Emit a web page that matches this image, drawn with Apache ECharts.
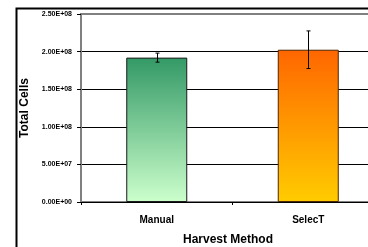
<!DOCTYPE html>
<html>
<head>
<meta charset="utf-8">
<script src="https://cdn.jsdelivr.net/npm/echarts@6/dist/echarts.min.js"></script>
<style>
html, body { margin: 0; padding: 0; background: #fff; }
#chart { width: 368px; height: 247px; }
</style>
</head>
<body>
<div id="chart"></div>
<script>
var categories = ['Manual', 'SelecT'];
var cellCounts = [1.92e8, 2.025e8];
var cellErrors = [6e6, 2.5e7];
var yTickLabels = ['0.00E+00', '5.00E+07', '1.00E+08', '1.50E+08', '2.00E+08', '2.50E+08'];

var barColors = [
    ['#339966', '#ccffcc', '#1a1a1a'],
    ['#ff6600', '#ffcc00', '#4d2600']
];

function initChart() {
    var chart = echarts.init(document.getElementById('chart'));
    var font = 'Liberation Sans';
    var option = {
        animation: false,
        graphic: [{
            type: 'rect',
            left: 14,
            top: 6,
            shape: { width: 400, height: 300 },
            style: { fill: 'none', stroke: '#000', lineWidth: 2 },
            z: 100
        }],
        grid: {
            left: 81,
            top: 14,
            width: 303,
            height: 188,
            outerBoundsMode: 'none',
            show: true,
            borderColor: '#808080',
            borderWidth: 2
        },
        xAxis: {
            type: 'category',
            data: categories,
            name: 'Harvest Method',
            nameLocation: 'middle',
            nameGap: 32,
            nameTextStyle: {
                fontFamily: font,
                fontWeight: 'bold',
                fontSize: 12,
                color: '#000',
                padding: [0, 9, 0, 0]
            },
            axisLine: { lineStyle: { color: '#000', width: 1 } },
            axisTick: { show: true, length: 3, lineStyle: { color: '#000' } },
            axisLabel: {
                margin: 13,
                fontFamily: font,
                fontWeight: 'bold',
                fontSize: 10,
                color: '#000'
            }
        },
        yAxis: {
            type: 'value',
            min: 0,
            max: 2.5e8,
            interval: 5e7,
            name: 'Total Cells',
            nameLocation: 'middle',
            nameGap: 41,
            nameTextStyle: {
                fontFamily: font,
                fontWeight: 'bold',
                fontSize: 12,
                color: '#000'
            },
            axisLine: { show: true, lineStyle: { color: '#808080', width: 2 } },
            axisTick: { show: true, length: 4, lineStyle: { color: '#000' } },
            axisLabel: {
                margin: 9,
                fontFamily: font,
                fontWeight: 'bold',
                fontSize: 7,
                color: '#000',
                formatter: function (v) {
                    return yTickLabels[Math.round(v / 5e7)];
                }
            },
            splitLine: {
                show: true,
                showMaxLine: false,
                lineStyle: { color: '#000', width: 1 }
            }
        },
        series: [{
            type: 'bar',
            barWidth: 61,
            data: cellCounts.map(function (v, i) {
                return {
                    value: v,
                    itemStyle: {
                        color: new echarts.graphic.LinearGradient(0, 0, 0, 1, [
                            { offset: 0, color: barColors[i][0] },
                            { offset: 1, color: barColors[i][1] }
                        ]),
                        borderColor: barColors[i][2],
                        borderWidth: 1
                    }
                };
            })
        }, {
            type: 'custom',
            z: 10,
            data: cellCounts.map(function (v, i) {
                return [i, v - cellErrors[i], v + cellErrors[i]];
            }),
            renderItem: function (params, api) {
                var lo = api.coord([api.value(0), api.value(1)]);
                var hi = api.coord([api.value(0), api.value(2)]);
                var x = Math.round(lo[0]) + 0.5;
                var cap = 2;
                var style = { stroke: '#000', lineWidth: 1 };
                return {
                    type: 'group',
                    children: [
                        { type: 'line', shape: { x1: x, y1: hi[1], x2: x, y2: lo[1] }, style: style },
                        { type: 'line', shape: { x1: x - cap, y1: hi[1], x2: x + cap, y2: hi[1] }, style: style },
                        { type: 'line', shape: { x1: x - cap, y1: lo[1], x2: x + cap, y2: lo[1] }, style: style }
                    ]
                };
            }
        }]
    };
    chart.setOption(option);
    return chart;
}

var chart = initChart();
</script>
</body>
</html>
